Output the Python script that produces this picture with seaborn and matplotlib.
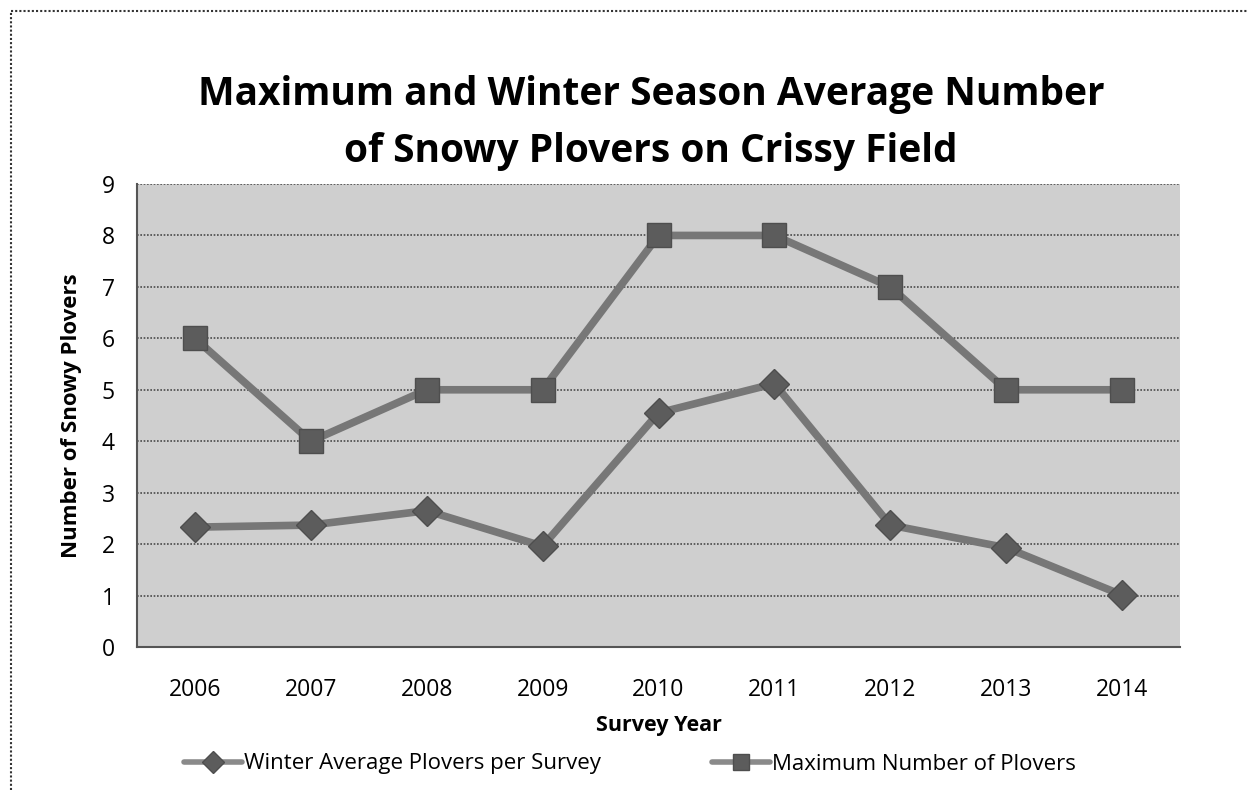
import numpy as np
import pandas as pd
import matplotlib
matplotlib.use("Agg")
import matplotlib.pyplot as plt
import seaborn as sns
from matplotlib.lines import Line2D

years = ["2006", "2007", "2008", "2009", "2010", "2011", "2012", "2013", "2014"]
winter_avg = [2.33, 2.37, 2.65, 1.96, 4.55, 5.12, 2.37, 1.93, 1.01]
max_count = [6, 4, 5, 5, 8, 8, 7, 5, 5]
series_names = ["Winter Average Plovers per Survey", "Maximum Number of Plovers"]
y_ticks = [0, 1, 2, 3, 4, 5, 6, 7, 8, 9]

sns.set_style("white")
plt.rcParams["font.family"] = ["Open Sans", "DejaVu Sans"]
plt.rcParams["text.color"] = "black"
plt.rcParams["axes.labelcolor"] = "black"
plt.rcParams["xtick.labelcolor"] = "black"
plt.rcParams["ytick.labelcolor"] = "black"

df = pd.DataFrame({
    "Survey Year": list(range(len(years))) * 2,
    "value": winter_avg + max_count,
    "series": [series_names[0]] * len(years) + [series_names[1]] * len(years),
})

W, H = 1248, 790
fig = plt.figure(figsize=(W / 100, H / 100), dpi=100)
L, R, T, B = 137, 1180, 184, 647
ax = fig.add_axes([L / W, 1 - B / H, (R - L) / W, (B - T) / H])
ax.set_facecolor("#cfcfcf")

line_color = "#777777"
sns.lineplot(data=df, x="Survey Year", y="value", hue="series", style="series",
             palette=[line_color, line_color], markers=["D", "s"], dashes=False,
             linewidth=5.5, markersize=17, markeredgecolor="#4e4e4e",
             markeredgewidth=1, ax=ax, legend=False, zorder=3)
for ln in ax.lines:
    ln.set_markerfacecolor("#5c5c5c")
ax.lines[0].set_markersize(15)

ax.set_xlim(-0.5, len(years) - 0.5)
ax.set_ylim(0, 9)
ax.set_yticks(y_ticks)
ax.set_yticklabels([str(v) for v in y_ticks], fontsize=16.5)
ax.set_xticks(range(len(years)))
ax.set_xticklabels(years, fontsize=16.5)
ax.set_xticks(np.arange(-0.5, len(years), 1.0), minor=True)
ax.tick_params(axis="x", which="major", length=0, pad=22)
ax.tick_params(axis="x", which="minor", length=6, color="#555555", width=1)
ax.tick_params(axis="y", which="major", length=6, color="#555555", width=1, pad=10)
ax.grid(axis="y", color="#4a4a4a", linestyle=(0, (1, 1)), linewidth=1.2, zorder=1)
ax.set_axisbelow(True)
for side in ["top", "right"]:
    ax.spines[side].set_visible(False)
for side in ["left", "bottom"]:
    ax.spines[side].set_color("#555555")
    ax.spines[side].set_linestyle((0, (1, 1)))
    ax.spines[side].set_linewidth(1.5)

ax.set_xlabel("Survey Year", fontsize=15.5, fontweight="bold", labelpad=10)
ax.set_ylabel("Number of Snowy Plovers", fontsize=16, fontweight="bold", labelpad=14)

fig.text(0.5 * (L + R) / W - 0.006, 1 - 123 / H,
         "Maximum and Winter Season Average Number\nof Snowy Plovers on Crissy Field",
         ha="center", va="center", fontsize=28, fontweight="bold", linespacing=1.6,
         color="black")

handles = [
    Line2D([], [], color="#8a8a8a", lw=4, marker="D", markersize=11,
           markerfacecolor="#5c5c5c", markeredgecolor="#4e4e4e"),
    Line2D([], [], color="#8a8a8a", lw=4, marker="s", markersize=12,
           markerfacecolor="#5c5c5c", markeredgecolor="#4e4e4e"),
]
fig.legend(handles, series_names, loc="center", bbox_to_anchor=(0.505, 1 - 764 / H),
           ncol=2, frameon=False, fontsize=16, handlelength=2.6, handletextpad=0.1,
           columnspacing=5.0)

# dotted frame around the chart
fig.add_artist(Line2D([11 / W, 11 / W], [0, 1 - 11 / H], transform=fig.transFigure,
                      color="#333333", lw=1.5, linestyle=(0, (1, 1))))
fig.add_artist(Line2D([11 / W, 1], [1 - 11 / H, 1 - 11 / H], transform=fig.transFigure,
                      color="#333333", lw=1.5, linestyle=(0, (1, 1))))

fig.savefig("out.png", dpi=100)
